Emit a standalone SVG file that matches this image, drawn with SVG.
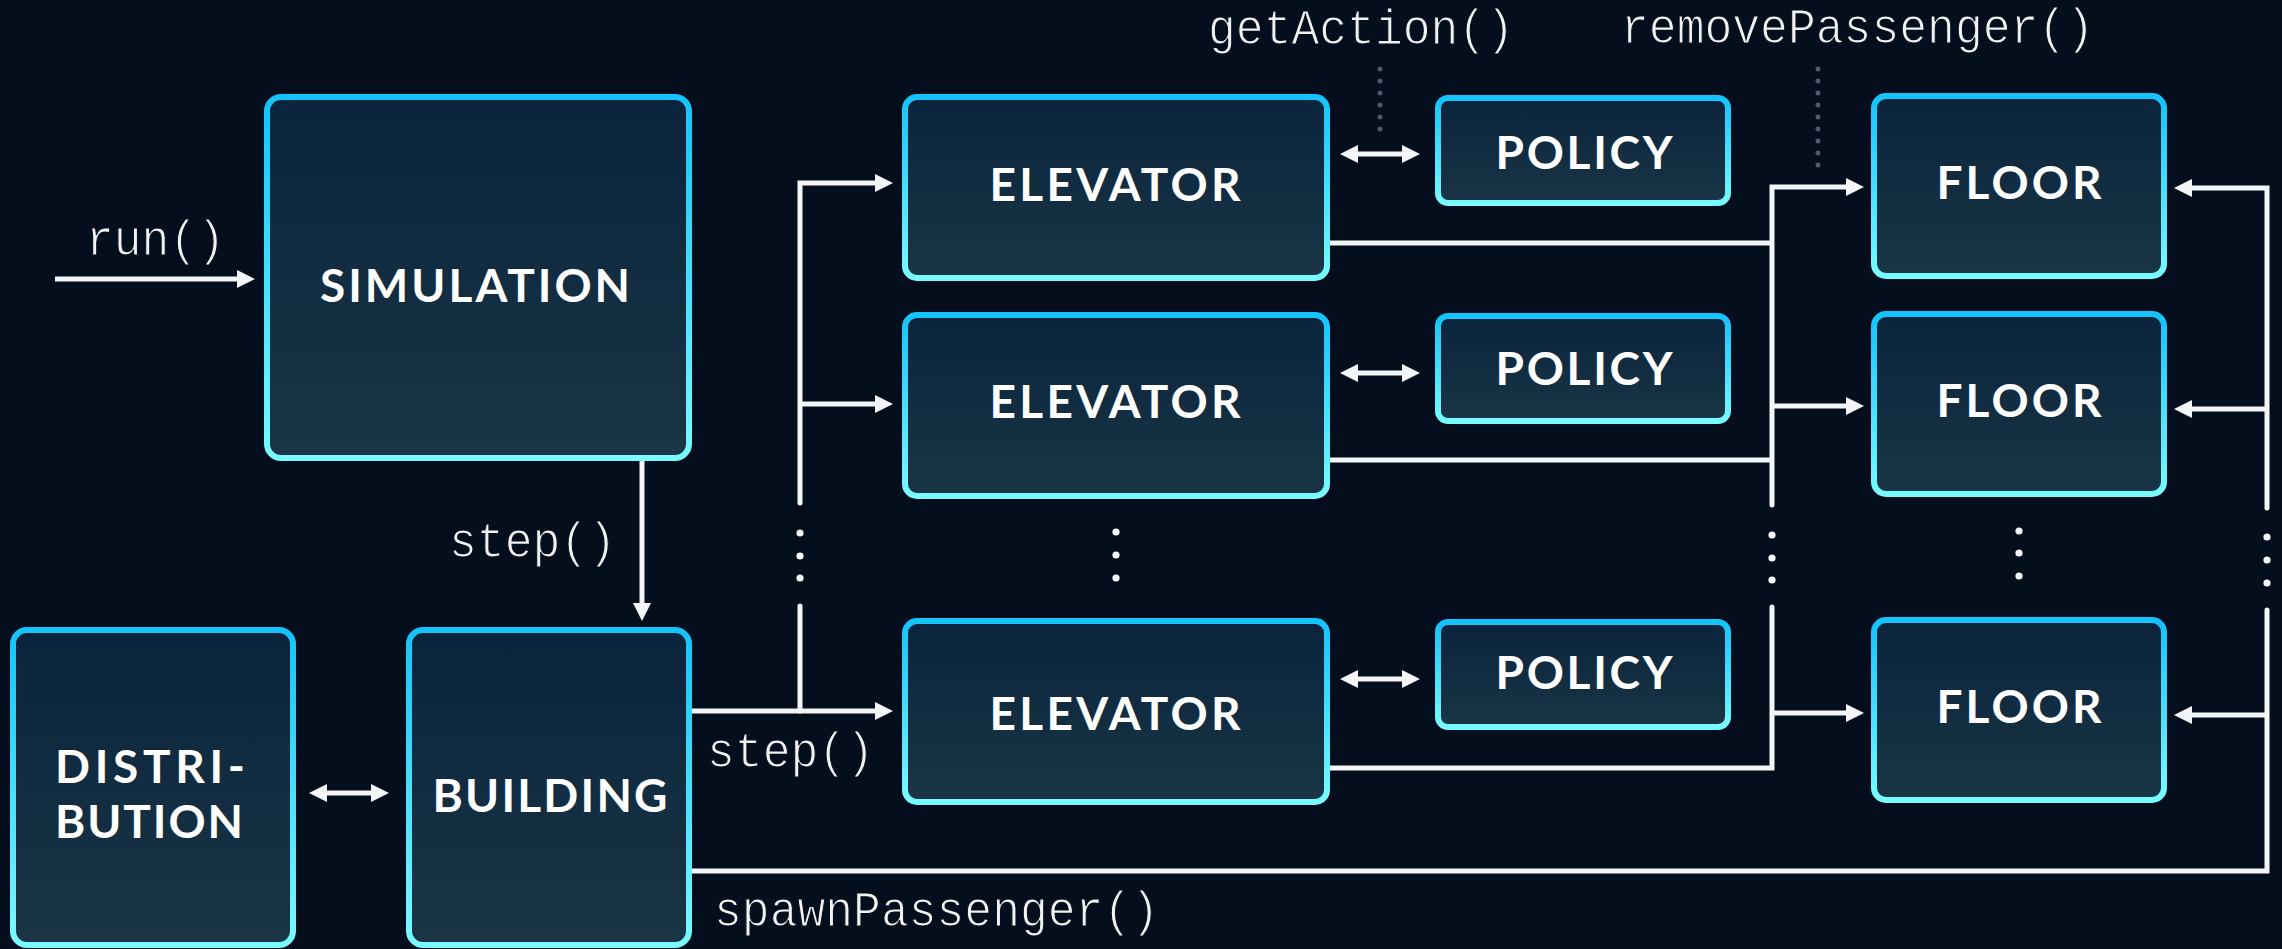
<svg xmlns="http://www.w3.org/2000/svg" width="2282" height="949" viewBox="0 0 2282 949">
  <defs>
    <linearGradient id="boxFill" x1="0" y1="0" x2="0" y2="1">
      <stop offset="0" stop-color="#0a243d"/>
      <stop offset="1" stop-color="#1a3545"/>
    </linearGradient>
    <linearGradient id="boxStroke" x1="0" y1="0" x2="0" y2="1">
      <stop offset="0" stop-color="#14c3fb"/>
      <stop offset="1" stop-color="#78fbff"/>
    </linearGradient>
    <marker id="head" viewBox="0 0 18 18" markerUnits="userSpaceOnUse" markerWidth="18" markerHeight="18" refX="8" refY="9" orient="auto-start-reverse">
      <path d="M0 0 L18 9 L0 18 Z" fill="#f4f5f6"/>
    </marker>
    <style>
      .box { fill: url(#boxFill); stroke: url(#boxStroke); stroke-width: 6; }
      .name { font-family: Lato, "Noto Sans", sans-serif; font-weight: 700; font-size: 46px; fill: #ffffff; text-anchor: middle; }
      .call { font-family: "Liberation Mono", "DejaVu Sans Mono", monospace; font-size: 50px; fill: #f2f2f2; stroke: #040e1d; stroke-width: 1.2px; }
      .wire { fill: none; stroke: #f4f5f6; stroke-width: 5; stroke-linejoin: miter; }
      .gap { stroke-linecap: round; }
      .arrow { marker-end: url(#head); }
      .both { marker-start: url(#head); marker-end: url(#head); }
      .dot { fill: #f4f5f6; }
      .hint { fill: none; stroke: #4b5a6e; stroke-width: 5; stroke-linecap: round; stroke-dasharray: 0 12; }
    </style>
  </defs>

  <rect width="2282" height="949" fill="#040e1d"/>

  <!-- connectors -->
  <g id="connectors">
    <!-- run() entry -->
    <path class="wire arrow" d="M55 279 H245"/>
    <!-- simulation -> building -->
    <path class="wire arrow" d="M642 461 V611"/>
    <!-- distribution <-> building -->
    <path class="wire both" d="M319 793 H379"/>

    <!-- building step() bus to elevators -->
    <path class="wire arrow" d="M692 711 H883"/>
    <path class="wire gap" d="M800 711 V606"/>
    <path class="wire gap arrow" d="M800 503 V183 H883"/>
    <path class="wire arrow" d="M800 404 H883"/>

    <!-- elevator <-> policy -->
    <path class="wire both" d="M1350 154 H1410"/>
    <path class="wire both" d="M1350 373 H1410"/>
    <path class="wire both" d="M1350 679 H1410"/>

    <!-- elevators -> floors (removePassenger) -->
    <path class="wire" d="M1330 243 H1772"/>
    <path class="wire" d="M1330 460 H1772"/>
    <path class="wire gap" d="M1330 768 H1772 V607"/>
    <path class="wire gap arrow" d="M1772 505 V187 H1854"/>
    <path class="wire arrow" d="M1772 406 H1854"/>
    <path class="wire arrow" d="M1772 713 H1854"/>

    <!-- building -> floors (spawnPassenger) -->
    <path class="wire gap" d="M692 871 H2267 V610"/>
    <path class="wire gap arrow" d="M2267 508 V188 H2184"/>
    <path class="wire arrow" d="M2267 409 H2184"/>
    <path class="wire arrow" d="M2267 715 H2184"/>

    <!-- ellipsis dots -->
    <circle class="dot" cx="800" cy="533" r="3.6"/>
    <circle class="dot" cx="800" cy="556" r="3.6"/>
    <circle class="dot" cx="800" cy="578" r="3.6"/>
    <circle class="dot" cx="1116" cy="532" r="3.6"/>
    <circle class="dot" cx="1116" cy="555" r="3.6"/>
    <circle class="dot" cx="1116" cy="578" r="3.6"/>
    <circle class="dot" cx="1772" cy="535" r="3.6"/>
    <circle class="dot" cx="1772" cy="558" r="3.6"/>
    <circle class="dot" cx="1772" cy="580" r="3.6"/>
    <circle class="dot" cx="2019" cy="531" r="3.6"/>
    <circle class="dot" cx="2019" cy="553" r="3.6"/>
    <circle class="dot" cx="2019" cy="576" r="3.6"/>
    <circle class="dot" cx="2267" cy="537" r="3.6"/>
    <circle class="dot" cx="2267" cy="560" r="3.6"/>
    <circle class="dot" cx="2267" cy="583" r="3.6"/>

    <!-- call hints -->
    <line class="hint" x1="1380" y1="69" x2="1380" y2="130"/>
    <line class="hint" x1="1818" y1="69" x2="1818" y2="166"/>
  </g>

  <!-- call labels -->
  <g id="labels">
    <text class="call" x="86" y="255" textLength="139" lengthAdjust="spacingAndGlyphs">run()</text>
    <text class="call" x="449" y="557" textLength="167" lengthAdjust="spacingAndGlyphs">step()</text>
    <text class="call" x="707" y="767" textLength="167" lengthAdjust="spacingAndGlyphs">step()</text>
    <text class="call" x="714" y="926" textLength="445" lengthAdjust="spacingAndGlyphs">spawnPassenger()</text>
    <text class="call" x="1208" y="44" textLength="306" lengthAdjust="spacingAndGlyphs">getAction()</text>
    <text class="call" x="1621" y="43" textLength="473" lengthAdjust="spacingAndGlyphs">removePassenger()</text>
  </g>

  <!-- nodes -->
  <g id="simulation">
    <rect class="box" x="267" y="97" width="422" height="361" rx="14"/>
    <text class="name" x="475" y="302" textLength="310" lengthAdjust="spacing">SIMULATION</text>
  </g>
  <g id="distribution">
    <rect class="box" x="13" y="630" width="280" height="315" rx="14"/>
    <text class="name" x="150" y="783" textLength="190" lengthAdjust="spacing">DISTRI-</text>
    <text class="name" x="149" y="838" textLength="188" lengthAdjust="spacing">BUTION</text>
  </g>
  <g id="building">
    <rect class="box" x="409" y="630" width="280" height="315" rx="14"/>
    <text class="name" x="550" y="812" textLength="235" lengthAdjust="spacing">BUILDING</text>
  </g>

  <g id="elevator-1">
    <rect class="box" x="905" y="97" width="422" height="181" rx="12"/>
    <text class="name" x="1115" y="201" textLength="251" lengthAdjust="spacing">ELEVATOR</text>
  </g>
  <g id="elevator-2">
    <rect class="box" x="905" y="315" width="422" height="181" rx="12"/>
    <text class="name" x="1115" y="418" textLength="251" lengthAdjust="spacing">ELEVATOR</text>
  </g>
  <g id="elevator-3">
    <rect class="box" x="905" y="621" width="422" height="181" rx="12"/>
    <text class="name" x="1115" y="730" textLength="251" lengthAdjust="spacing">ELEVATOR</text>
  </g>

  <g id="policy-1">
    <rect class="box" x="1438" y="98" width="290" height="105" rx="10"/>
    <text class="name" x="1584" y="169" textLength="177" lengthAdjust="spacing">POLICY</text>
  </g>
  <g id="policy-2">
    <rect class="box" x="1438" y="316" width="290" height="105" rx="10"/>
    <text class="name" x="1584" y="385" textLength="177" lengthAdjust="spacing">POLICY</text>
  </g>
  <g id="policy-3">
    <rect class="box" x="1438" y="622" width="290" height="105" rx="10"/>
    <text class="name" x="1584" y="689" textLength="177" lengthAdjust="spacing">POLICY</text>
  </g>

  <g id="floor-1">
    <rect class="box" x="1874" y="96" width="290" height="180" rx="12"/>
    <text class="name" x="2019" y="199" textLength="165" lengthAdjust="spacing">FLOOR</text>
  </g>
  <g id="floor-2">
    <rect class="box" x="1874" y="314" width="290" height="180" rx="12"/>
    <text class="name" x="2019" y="417" textLength="165" lengthAdjust="spacing">FLOOR</text>
  </g>
  <g id="floor-3">
    <rect class="box" x="1874" y="620" width="290" height="180" rx="12"/>
    <text class="name" x="2019" y="723" textLength="165" lengthAdjust="spacing">FLOOR</text>
  </g>
</svg>
